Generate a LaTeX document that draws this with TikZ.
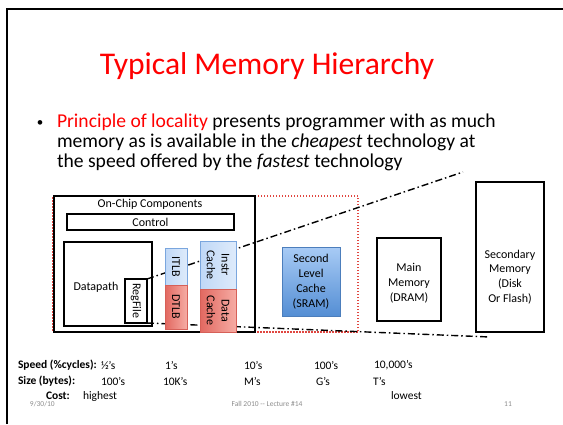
\documentclass[tikz,border=0pt]{standalone}
\usepackage{fontspec}
\setmainfont{Carlito}
\definecolor{slidered}{RGB}{255,0,0}
\definecolor{dotred}{RGB}{224,70,64}
\definecolor{bluefillA}{RGB}{192,216,247}
\definecolor{bluefillB}{RGB}{222,235,251}
\definecolor{blueedge}{RGB}{122,166,222}
\definecolor{redfillA}{RGB}{226,104,96}
\definecolor{redfillB}{RGB}{246,172,164}
\definecolor{rededge}{RGB}{214,96,88}
\definecolor{ltop}{RGB}{168,203,245}
\definecolor{lbot}{RGB}{84,142,212}
\definecolor{ledge}{RGB}{76,126,188}
\definecolor{footgray}{RGB}{140,140,140}
\begin{document}
\begin{tikzpicture}[x=1pt,y=-1pt,
  every node/.style={inner sep=0pt, outer sep=0pt},
  blackbox/.style={draw=black, line width=1.2pt, anchor=north west},
  bluebox/.style={draw=blueedge, line width=0.8pt, left color=bluefillA, right color=bluefillB, anchor=north west},
  redbox/.style={draw=rededge, line width=0.8pt, left color=redfillA, right color=redfillB, anchor=north west},
  boxtext/.style={font=\fontsize{12}{14.8}\selectfont, align=center},
  rowtext/.style={font=\fontsize{11.5}{14}\selectfont, anchor=west},
  rowhead/.style={font=\fontsize{11.5}{14}\selectfont\bfseries, anchor=west},
  foot/.style={font=\fontsize{7.5}{9}\selectfont, text=footgray},
  dashdotline/.style={line width=1.4pt, dash pattern=on 7pt off 3pt on 1.5pt off 3pt}
]
\useasboundingbox (0,0) rectangle (563,424);
% slide frame
\draw[line width=2pt] (7,424) -- (7,9) -- (563,9);

% title and bullet
\node[anchor=base, text=slidered, font=\fontsize{31.6}{36}\selectfont] (title) at (267,74) {Typical Memory Hierarchy};
\node[anchor=base, font=\fontsize{13}{15}\selectfont] (dot) at (40,126) {•};
\node[anchor=base west, font=\fontsize{19.6}{22}\selectfont] (l1) at (57,127) {\textcolor{slidered}{Principle of locality} presents programmer with as much};
\node[anchor=base west, font=\fontsize{19.6}{22}\selectfont] (l2) at (57,147) {memory as is available in the \textit{cheapest} technology at};
\node[anchor=base west, font=\fontsize{19.6}{22}\selectfont] (l3) at (57,167) {the speed offered by the \textit{fastest} technology};

% regions
\node[draw=dotred, line width=1.5pt, dash pattern=on 1.5pt off 1.5pt, anchor=north west, minimum width=305pt, minimum height=136pt] (dotted) at (53,196) {};
\node[blackbox, minimum width=201pt, minimum height=136pt] (onchip) at (54,196) {};
\node[boxtext, anchor=center] (onchiplbl) at (150,204) {On-Chip Components};
\node[blackbox, minimum width=167pt, minimum height=16pt] (control) at (67,214) {};
\node[boxtext, anchor=center] (controllbl) at (control.center) {Control};
\node[blackbox, minimum width=88pt, minimum height=84pt] (datapath) at (64,242) {};
\node[boxtext, anchor=center] (datapathlbl) at (96,287) {Datapath};
\node[blackbox, fill=white, minimum width=22pt, minimum height=44pt] (regfile) at (125,279) {};
\node[boxtext, anchor=center, rotate=-90] (regfilelbl) at (regfile.center) {RegFile};

% dash-dot projection lines
\coordinate (topend) at (463,172);
\coordinate (botend) at (490,337);
\draw[dashdotline] (regfile.north east) -- (topend);
\draw[dashdotline] (regfile.south east) -- (botend);

% TLBs and caches
\node[bluebox, minimum width=22pt, minimum height=37pt] (itlb) at (165,248) {};
\node[boxtext, anchor=center, rotate=-90] (itlblbl) at (itlb.center) {ITLB};
\node[redbox, minimum width=22pt, minimum height=44pt] (dtlb) at (165,285) {};
\node[boxtext, anchor=center, rotate=-90] (dtlblbl) at (dtlb.center) {DTLB};
\node[bluebox, minimum width=36pt, minimum height=48pt] (icache) at (200,241) {};
\node[boxtext, anchor=center, rotate=-90] (icachelbl) at (icache.center) {Instr\\Cache};
\node[redbox, minimum width=36pt, minimum height=43pt] (dcache) at (200,289) {};
\node[boxtext, anchor=center, rotate=-90] (dcachelbl) at (dcache.center) {Data\\Cache};

% L2, main, secondary
\node[draw=ledge, line width=0.8pt, top color=ltop, bottom color=lbot, anchor=north west, minimum width=58pt, minimum height=69pt] (l2c) at (282,247) {};
\node[boxtext, anchor=center] (l2lbl) at (l2c.center) {Second\\Level\\Cache\\(SRAM)};
\node[blackbox, minimum width=64pt, minimum height=83pt] (mainmem) at (377,238) {};
\node[boxtext, anchor=center] (mainlbl) at (409,283) {Main\\Memory\\(DRAM)};
\node[blackbox, minimum width=68pt, minimum height=150pt] (secmem) at (476,182) {};
\node[boxtext, anchor=center] (seclbl) at (510,277) {Secondary\\Memory\\(Disk\\Or Flash)};

% rows
\node[rowhead] (speedh) at (18,365) {Speed (\%cycles):};
\node[rowtext] (s1) at (101,365) {½’s};
\node[rowtext] (s2) at (165,365) {1’s};
\node[rowtext] (s3) at (244,365) {10’s};
\node[rowtext] (s4) at (314,365) {100’s};
\node[rowtext] (s5) at (374,365) {10,000’s};
\node[rowhead] (sizeh) at (18,381) {Size (bytes):};
\node[rowtext] (z1) at (101,381) {100’s};
\node[rowtext] (z2) at (163,381) {10K’s};
\node[rowtext] (z3) at (244,381) {M’s};
\node[rowtext] (z4) at (316,381) {G’s};
\node[rowtext] (z5) at (373,381) {T’s};
\node[rowhead] (costh) at (46,396) {Cost:};
\node[rowtext] (c1) at (83,396) {highest};
\node[rowtext] (c2) at (391,396) {lowest};

% footer
\node[foot, anchor=west] (date) at (30,404) {9/30/10};
\node[foot, anchor=center] (lect) at (267,404) {Fall 2010 -{}- Lecture \#14};
\node[foot, anchor=center] (pnum) at (508,404) {11};
\end{tikzpicture}
\end{document}
